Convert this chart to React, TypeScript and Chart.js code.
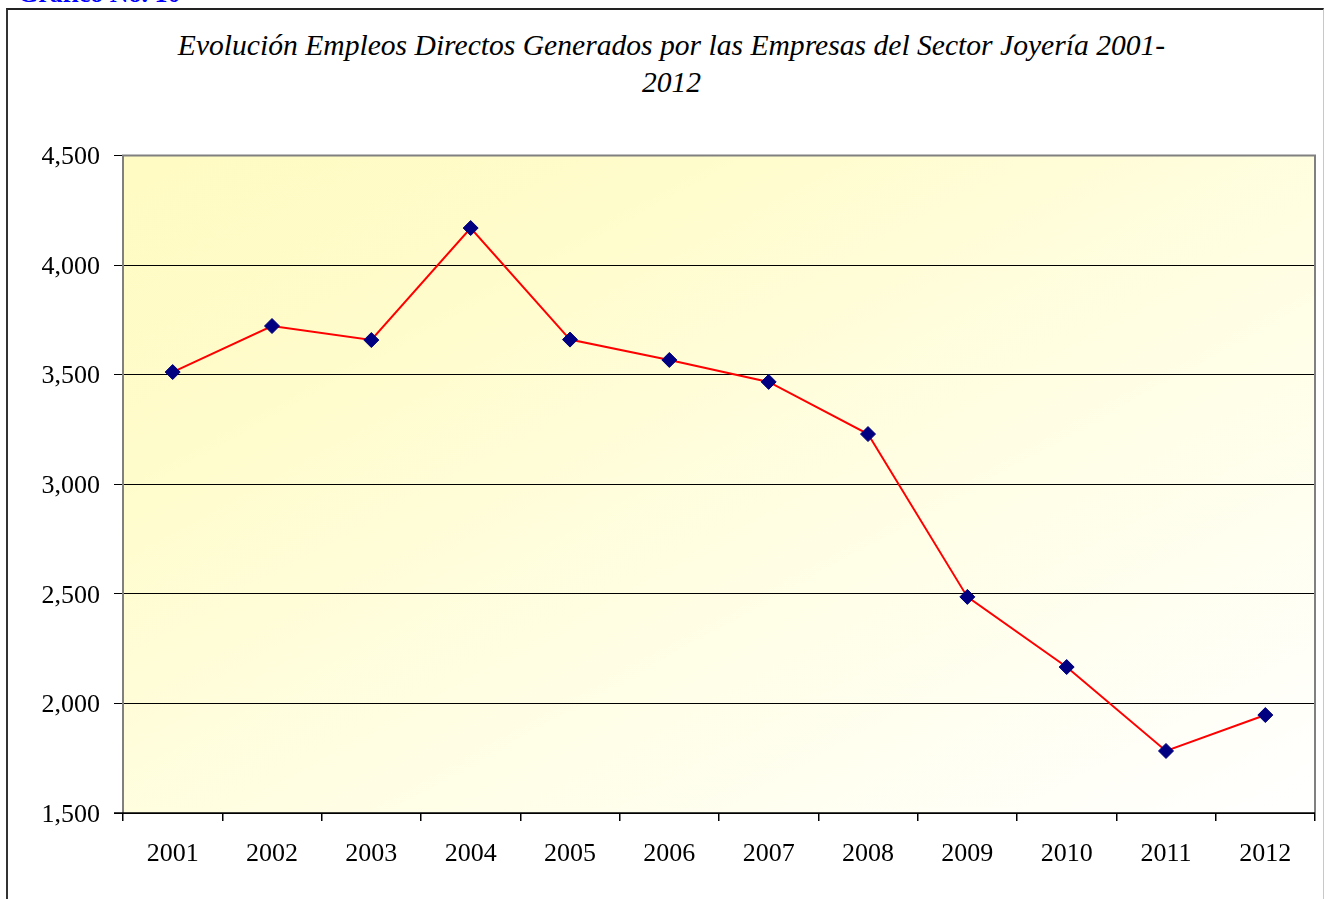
import React, { useEffect, useRef } from "react";
import { Chart, registerables } from "chart.js";

Chart.register(...registerables);

const categories = ["2001", "2002", "2003", "2004", "2005", "2006", "2007", "2008", "2009", "2010", "2011", "2012"];
const empleos = [3512, 3722, 3658, 4169, 3660, 3567, 3467, 3229, 2486, 2166, 1783, 1947];
const yMin = 1500;
const yMax = 4500;
const yStep = 500;
const titleLines = ["Evolución Empleos Directos Generados por las Empresas del Sector Joyería 2001-", "2012"];
const caption = "Gráfico No. 10";

const plotDecor = {
  id: "plotDecor",
  beforeDraw(chart: any) {
    const { ctx, chartArea: a } = chart;
    const W = a.right - a.left;
    const H = a.bottom - a.top;
    const cx = (a.left + a.right) / 2;
    const cy = (a.top + a.bottom) / 2;
    const n = Math.sqrt(W * W + H * H);
    const L = (W * H) / n;
    const ux = H / n;
    const uy = W / n;
    const g = ctx.createLinearGradient(cx - L * ux, cy - L * uy, cx + L * ux, cy + L * uy);
    g.addColorStop(0, "#FFFBC2");
    g.addColorStop(0.25, "#FFFCCC");
    g.addColorStop(0.55, "#FFFEE2");
    g.addColorStop(1, "#FFFFFF");
    ctx.save();
    ctx.fillStyle = g;
    ctx.fillRect(a.left, a.top, W, H);
    ctx.restore();
  },
  beforeDatasetsDraw(chart: any) {
    const { ctx, chartArea: a } = chart;
    ctx.save();
    ctx.strokeStyle = "#808080";
    ctx.lineWidth = 2;
    ctx.beginPath();
    ctx.moveTo(a.left, a.bottom);
    ctx.lineTo(a.left, a.top);
    ctx.lineTo(a.right, a.top);
    ctx.lineTo(a.right, a.bottom);
    ctx.stroke();
    ctx.strokeStyle = "#000000";
    ctx.lineWidth = 1.5;
    ctx.beginPath();
    ctx.moveTo(a.left - 9, a.bottom);
    ctx.lineTo(a.right, a.bottom);
    ctx.stroke();
    ctx.restore();
  },
};

export default function App() {
  const ref = useRef<HTMLCanvasElement>(null);
  useEffect(() => {
    if (!ref.current) return;
    const chart = new Chart(ref.current, {
      type: "line",
      data: {
        labels: categories,
        datasets: [
          {
            data: empleos,
            borderColor: "#FF0000",
            borderWidth: 2,
            pointStyle: "rectRot",
            pointRadius: 7.5,
            pointBackgroundColor: "#000080",
            pointBorderColor: "#000080",
            pointBorderWidth: 1,
            tension: 0,
          },
        ],
      },
      options: {
        animation: false,
        responsive: false,
        maintainAspectRatio: false,
        events: [],
        layout: { padding: { left: 0, right: 10, top: 155.5, bottom: 0 } },
        plugins: {
          legend: { display: false },
          title: { display: false },
          tooltip: { enabled: false },
        },
        scales: {
          x: {
            type: "category",
            offset: true,
            border: { display: false },
            grid: {
              offset: true,
              drawOnChartArea: false,
              drawTicks: true,
              tickLength: 8,
              color: "#000000",
              lineWidth: 1.5,
            },
            ticks: {
              color: "#000000",
              padding: 18,
              maxRotation: 0,
              autoSkip: false,
              font: { family: "'Liberation Serif', 'Times New Roman', serif", size: 26 },
            },
            afterFit(scale: any) {
              scale.height = 86;
            },
          },
          y: {
            min: yMin,
            max: yMax,
            border: { display: false },
            grid: {
              color: "#000000",
              lineWidth: 1,
              tickLength: 9,
            },
            ticks: {
              stepSize: yStep,
              color: "#000000",
              padding: 14,
              labelOffset: 2,
              font: { family: "'Liberation Serif', 'Times New Roman', serif", size: 26 },
              callback: (v: any) => Number(v).toLocaleString("en-US"),
            },
            afterFit(scale: any) {
              scale.width = 123;
            },
          },
        },
      },
      plugins: [plotDecor],
    });
    return () => chart.destroy();
  }, []);

  return (
    <div style={{ position: "fixed", left: 0, top: 0, width: 1325, height: 899, overflow: "hidden", background: "#fff" }}>
      <div
        style={{
          position: "absolute",
          left: 6,
          top: 8,
          width: 1315,
          height: 900,
          borderLeft: "2px solid #333",
          borderTop: "2px solid #222",
          borderRight: "1px solid #c8c8c8",
        }}
      />
      <div
        style={{
          position: "absolute",
          left: 18,
          top: -19,
          fontFamily: "'Liberation Serif', 'Times New Roman', serif",
          fontWeight: "bold",
          fontSize: 26,
          lineHeight: "26px",
          color: "#0000FF",
          whiteSpace: "nowrap",
        }}
      >
        {caption}
      </div>
      <div
        style={{
          position: "absolute",
          left: 18,
          top: 27,
          width: 1307,
          textAlign: "center",
          fontFamily: "'Liberation Serif', 'Times New Roman', serif",
          fontStyle: "italic",
          fontSize: 29.6,
          lineHeight: "37px",
          color: "#000",
          whiteSpace: "nowrap",
        }}
      >
        {titleLines[0]}
        <br />
        {titleLines[1]}
      </div>
      <canvas ref={ref} width={1325} height={899} style={{ position: "absolute", left: 0, top: 0, width: 1325, height: 899 }} />
    </div>
  );
}
